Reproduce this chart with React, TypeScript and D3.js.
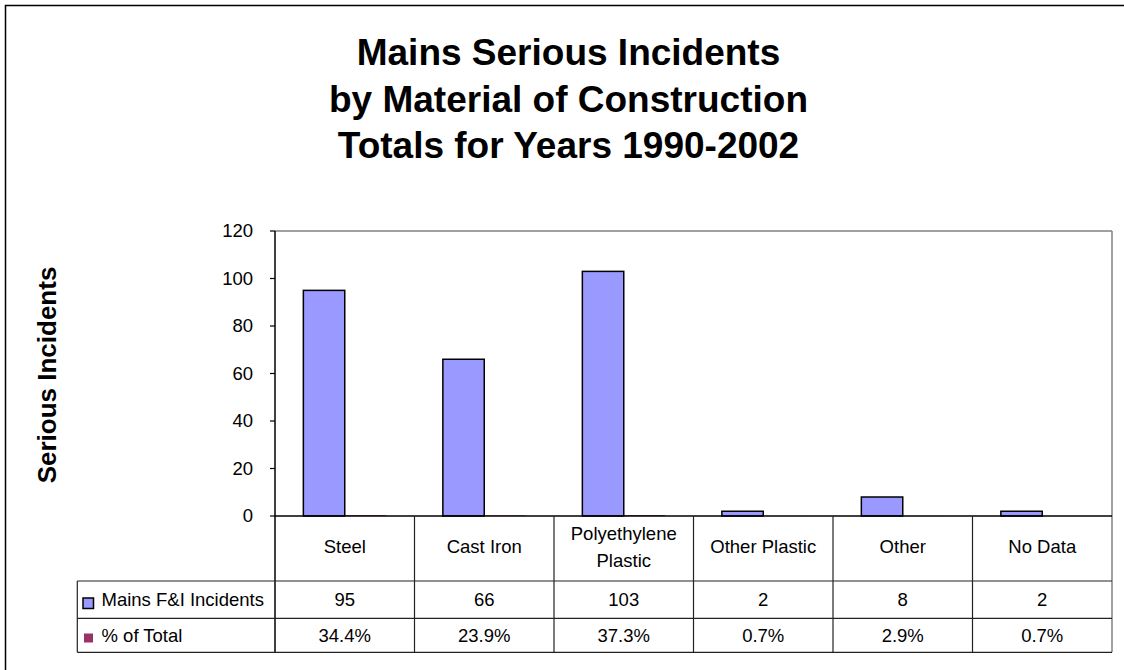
import React from "react";
import * as d3 from "d3";

const titleLines = ["Mains Serious Incidents", "by Material of Construction", "Totals for Years 1990-2002"];
const yAxisTitle = "Serious Incidents";
const categories = ["Steel", "Cast Iron", "Polyethylene Plastic", "Other Plastic", "Other", "No Data"];
const categoryLabelLines = [["Steel"], ["Cast Iron"], ["Polyethylene", "Plastic"], ["Other Plastic"], ["Other"], ["No Data"]];
const seriesNames = ["Mains F&I Incidents", "% of Total"];
const incidents = [95, 66, 103, 2, 8, 2];
const pctOfTotal = [34.4, 23.9, 37.3, 0.7, 2.9, 0.7];
const pctLabels = ["34.4%", "23.9%", "37.3%", "0.7%", "2.9%", "0.7%"];
const yTicks = [0, 20, 40, 60, 80, 100, 120];
const seriesColors = ["#9999FF", "#993366"];

const W = 1124;
const H = 670;
const FONT = "'Liberation Sans', Arial, Helvetica, sans-serif";
const FS = 18.5;

export default function App() {
  const plotLeft = 275;
  const plotRight = 1112;
  const plotTop = 231;
  const plotBottom = 516;
  const row1Bottom = 581;
  const row2Bottom = 618.3;
  const row3Bottom = 652.3;
  const tableLeft = 77.3;

  const x = d3.scaleBand<string>().domain(categories).range([plotLeft, plotRight]).padding(0);
  const xs = d3
    .scaleBand<string>()
    .domain(seriesNames)
    .range([0, x.bandwidth()])
    .paddingInner(0)
    .paddingOuter(0.685);
  const y = d3.scaleLinear().domain([0, 120]).range([plotBottom, plotTop]);

  const seriesValues = [incidents, pctOfTotal.map((p) => p / 100)];
  const lineCol = "#222";

  return (
    <svg width={W} height={H} style={{ position: "absolute", left: 0, top: 0, background: "#fff" }} fontFamily={FONT}>
      <rect x={0} y={0} width={W} height={H} fill="#fff" />
      <rect x={5.5} y={5.5} width={W + 40} height={H + 40} fill="none" stroke="#000" strokeWidth={1.5} />

      {/* title */}
      {titleLines.map((t, i) => (
        <text key={t} x={568.5} y={65 + i * 46.5} textAnchor="middle" fontSize={37} fontWeight="bold" fill="#000">
          {t}
        </text>
      ))}

      {/* y axis title */}
      <text
        transform={`translate(${56},${375}) rotate(-90)`}
        textAnchor="middle"
        fontSize={26}
        fontWeight="bold"
        fill="#000"
      >
        {yAxisTitle}
      </text>

      {/* plot area border (top/right) */}
      <line x1={plotLeft} x2={plotRight} y1={plotTop} y2={plotTop} stroke="#808080" strokeWidth={1.5} />
      <line x1={plotRight} x2={plotRight} y1={plotTop} y2={row3Bottom} stroke="#808080" strokeWidth={1.5} />

      {/* bars */}
      {seriesValues.map((vals, si) =>
        vals.map((v, ci) => {
          const bx = (x(categories[ci]) as number) + (xs(seriesNames[si]) as number);
          const by = y(v);
          return (
            <rect
              key={`${si}-${ci}`}
              x={bx}
              y={by}
              width={xs.bandwidth()}
              height={y(0) - by}
              fill={seriesColors[si]}
              stroke={si === 0 ? "#000" : "none"}
              strokeWidth={1.5}
            />
          );
        })
      )}

      {/* y ticks */}
      {yTicks.map((t) => (
        <g key={t}>
          <line x1={plotLeft - 5} x2={plotLeft} y1={y(t)} y2={y(t)} stroke="#000" strokeWidth={1.2} />
          <text x={253} y={y(t)} dy="0.35em" textAnchor="end" fontSize={FS} fill="#000">
            {t}
          </text>
        </g>
      ))}

      {/* axis lines */}
      <line x1={plotLeft} x2={plotLeft} y1={plotTop} y2={row3Bottom} stroke="#000" strokeWidth={1.5} />
      <line x1={plotLeft} x2={plotRight} y1={plotBottom} y2={plotBottom} stroke="#000" strokeWidth={1.5} />

      {/* table lines */}
      {[row1Bottom, row2Bottom, row3Bottom].map((ry) => (
        <line key={ry} x1={tableLeft} x2={plotRight} y1={ry} y2={ry} stroke={lineCol} strokeWidth={1.2} />
      ))}
      <line x1={tableLeft} x2={tableLeft} y1={row1Bottom} y2={row3Bottom} stroke={lineCol} strokeWidth={1.2} />
      {categories.slice(1).map((c) => (
        <line
          key={c}
          x1={x(c) as number}
          x2={x(c) as number}
          y1={plotBottom}
          y2={row3Bottom}
          stroke={lineCol}
          strokeWidth={1.2}
        />
      ))}

      {/* category labels */}
      {categories.map((c, i) => {
        const cx = (x(c) as number) + x.bandwidth() / 2;
        const lines = categoryLabelLines[i];
        const base = lines.length === 1 ? 552.5 : 539.5;
        return lines.map((l, li) => (
          <text key={c + l} x={cx} y={base + li * 27} textAnchor="middle" fontSize={FS} fill="#000">
            {l}
          </text>
        ));
      })}

      {/* legend keys */}
      <rect x={83} y={598} width={10.5} height={10.5} fill={seriesColors[0]} stroke="#000" strokeWidth={1.5} />
      <text x={101.5} y={(row1Bottom + row2Bottom) / 2} dy="0.35em" fontSize={FS} fill="#000">
        {seriesNames[0]}
      </text>
      <rect x={84} y={633.5} width={9} height={9} fill={seriesColors[1]} />
      <text x={101.5} y={(row2Bottom + row3Bottom) / 2} dy="0.35em" fontSize={FS} fill="#000">
        {seriesNames[1]}
      </text>

      {/* table values */}
      {categories.map((c, i) => {
        const cx = (x(c) as number) + x.bandwidth() / 2;
        return (
          <g key={c}>
            <text x={cx} y={(row1Bottom + row2Bottom) / 2} dy="0.35em" textAnchor="middle" fontSize={FS} fill="#000">
              {incidents[i]}
            </text>
            <text x={cx} y={(row2Bottom + row3Bottom) / 2} dy="0.35em" textAnchor="middle" fontSize={FS} fill="#000">
              {pctLabels[i]}
            </text>
          </g>
        );
      })}
    </svg>
  );
}
